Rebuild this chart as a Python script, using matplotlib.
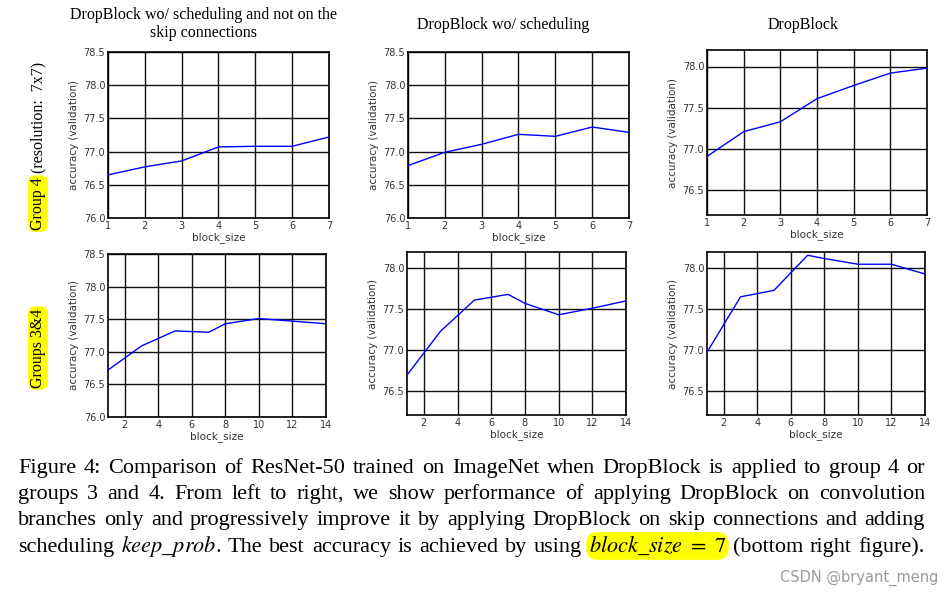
import matplotlib
matplotlib.use("Agg")
import matplotlib.pyplot as plt
import numpy as np

# ---------------- data ----------------
block_g4 = [1, 2, 3, 4, 5, 6, 7]
acc_g4_noskip = [76.65, 76.77, 76.86, 77.07, 77.08, 77.08, 77.22]
acc_g4_nosched = [76.79, 76.99, 77.11, 77.26, 77.23, 77.37, 77.29]
acc_g4_dropblock = [76.91, 77.21, 77.33, 77.61, 77.77, 77.92, 77.98]

block_g34 = [1, 3, 5, 7, 8, 10, 12, 14]
acc_g34_noskip = [76.72, 77.09, 77.32, 77.30, 77.43, 77.51, 77.47, 77.43]
acc_g34_nosched = [76.69, 77.23, 77.61, 77.68, 77.57, 77.43, 77.51, 77.60]
acc_g34_dropblock = [76.97, 77.65, 77.73, 78.16, 78.12, 78.05, 78.05, 77.93]

col_titles = ["DropBlock wo/ scheduling and not on the\nskip connections",
              "DropBlock wo/ scheduling", "DropBlock"]
xticks_g4 = [1, 2, 3, 4, 5, 6, 7]
xticks_g34 = [2, 4, 6, 8, 10, 12, 14]
yticks_full = [76.0, 76.5, 77.0, 77.5, 78.0, 78.5]
yticks_short = [76.5, 77.0, 77.5, 78.0]

caption_lines = [
    "Figure 4: Comparison of ResNet-50 trained on ImageNet when DropBlock is applied to group 4 or",
    "groups 3 and 4. From left to right, we show performance of applying DropBlock on convolution",
    "branches only and progressively improve it by applying DropBlock on skip connections and adding",
]
caption_last = ["scheduling", r"$keep\_prob$.", "The", "best", "accuracy", "is", "achieved",
                "by", "using", r"$block\_size\ =\ 7$", "(bottom", "right", "figure)."]

plt.rcParams['mathtext.fontset'] = 'stix'
W, H = 953, 597
fig = plt.figure(figsize=(W / 100, H / 100), dpi=100)
fig.patch.set_facecolor('white')

def px_axes(l, r, t, b):
    return [l / W, 1 - b / H, (r - l) / W, (b - t) / H]

panels = [
    (px_axes(108, 329, 52, 218), block_g4, acc_g4_noskip, (1, 7), (76.0, 78.5), xticks_g4, yticks_full),
    (px_axes(408, 629, 52, 218), block_g4, acc_g4_nosched, (1, 7), (76.0, 78.5), xticks_g4, yticks_full),
    (px_axes(707, 927, 50, 215), block_g4, acc_g4_dropblock, (1, 7), (76.2, 78.2), xticks_g4, yticks_short),
    (px_axes(108, 326, 254, 417), block_g34, acc_g34_noskip, (1, 14), (76.0, 78.5), xticks_g34, yticks_full),
    (px_axes(407, 626, 252, 415), block_g34, acc_g34_nosched, (1, 14), (76.2, 78.2), xticks_g34, yticks_short),
    (px_axes(707, 925, 252, 415), block_g34, acc_g34_dropblock, (1, 14), (76.2, 78.2), xticks_g34, yticks_short),
]

txtcol = '#333333'
for rect, xs, ys, xl, yl, xt, yt in panels:
    ax = fig.add_axes(rect)
    ax.plot(xs, ys, color='#0000ff', lw=1.0, zorder=3)
    ax.set_xlim(*xl)
    ax.set_ylim(*yl)
    ax.set_xticks(xt)
    ax.set_yticks(yt)
    ax.set_yticklabels([f"{v:.1f}" for v in yt])
    ax.grid(True, color='#111111', lw=1.0, ls='-')
    ax.set_axisbelow(True)
    ax.tick_params(length=0, labelsize=7, labelcolor=txtcol, pad=2)
    for s in ax.spines.values():
        s.set_color('black')
        s.set_linewidth(1.2)
    ax.set_xlabel('block_size', fontsize=7.5, color=txtcol, labelpad=1)
    ax.set_ylabel('accuracy (validation)', fontsize=7.5, color=txtcol, labelpad=3)

serif = ['Liberation Serif', 'DejaVu Serif']
# column titles
fig.text(204 / W, 1 - 24 / H, col_titles[0], ha='center', va='center', fontsize=11.5,
         family=serif, linespacing=1.15)
fig.text(503 / W, 1 - 25 / H, col_titles[1], ha='center', va='center', fontsize=11.5, family=serif)
fig.text(803 / W, 1 - 25 / H, col_titles[2], ha='center', va='center', fontsize=11.5, family=serif)

# row labels
yellow = '#ffff00'
g4 = fig.text(38 / W, 1 - 230 / H, "Group 4", rotation=90, ha='center', va='bottom',
              fontsize=11.5, family=serif,
              bbox=dict(boxstyle='round,pad=0.12,rounding_size=0.45', fc=yellow, ec='none'))
fig.add_artist(matplotlib.text.Annotation(
    " (resolution:  7x7)", xy=(0.5, 1.0), xycoords=g4, rotation=90,
    ha='center', va='bottom', fontsize=11.5, family=serif, annotation_clip=False))
fig.text(38 / W, 1 - 348 / H, "Groups 3&4", rotation=90, ha='center', va='center',
         fontsize=11.5, family=serif,
         bbox=dict(boxstyle='round,pad=0.12,rounding_size=0.45', fc=yellow, ec='none'))

# caption (justified)
fig.canvas.draw()
renderer = fig.canvas.get_renderer()
cap_fs = 16.0
x_left, x_right = 18, 925
line_base = [473, 499, 525, 552]

def measure(word):
    t = fig.text(0, 0, word, fontsize=cap_fs, family=serif)
    bb = t.get_window_extent(renderer)
    t.remove()
    return bb.width

def draw_words(words, yb, justify=True):
    widths = [measure(w) for w in words]
    nat = cap_fs * 100 / 72 * 0.25
    gap = (x_right - x_left - sum(widths)) / (len(words) - 1)
    if not justify:
        gap = min(gap, nat * 1.6)
    x = x_left
    for w, wd in zip(words, widths):
        kw = {}
        if 'block' in w:
            kw['bbox'] = dict(boxstyle='round,pad=0.12,rounding_size=0.5', fc=yellow, ec='none')
        fig.text(x / W, 1 - yb / H, w, fontsize=cap_fs, family=serif, va='baseline', ha='left', **kw)
        x += wd + gap

for li, line in enumerate(caption_lines):
    draw_words(line.split(" "), line_base[li])
draw_words(caption_last, line_base[3], justify=False)

fig.text(938 / W, 1 - 578 / H, "CSDN @bryant_meng", ha='right', va='center', fontsize=10.5,
         color='#9a9a9a', family=['Liberation Sans Narrow', 'DejaVu Sans'])

fig.savefig('out.png', dpi=100, facecolor='white')
